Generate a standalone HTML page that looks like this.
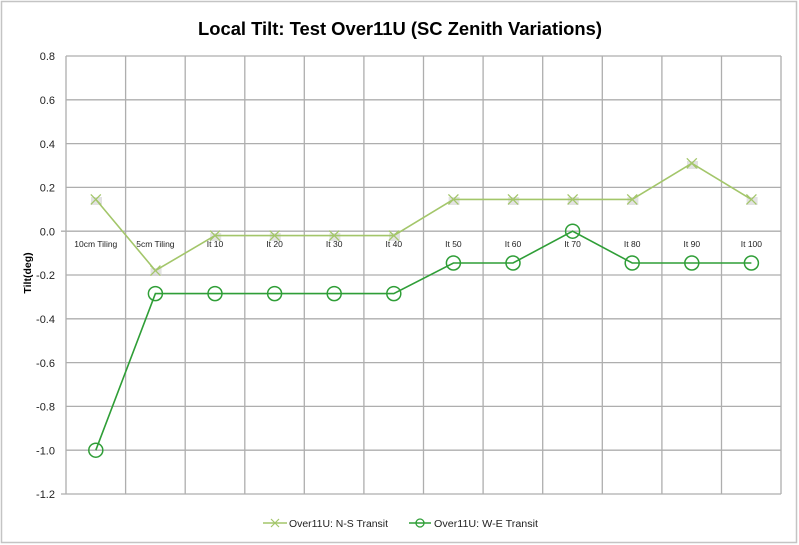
<!DOCTYPE html>
<html><head><meta charset="utf-8"><style>
html,body{margin:0;padding:0;background:#fff;}
svg{display:block;}
text{font-family:"Liberation Sans",sans-serif;}
</style></head><body>
<svg width="799" height="545" viewBox="0 0 799 545" xmlns="http://www.w3.org/2000/svg">
<rect x="1.5" y="1.5" width="795" height="541" fill="#fff" stroke="#c4c4c4" stroke-width="1.5"/>
<text x="400" y="35" text-anchor="middle" font-size="18" font-weight="bold" fill="#000" textLength="404" lengthAdjust="spacingAndGlyphs">Local Tilt: Test Over11U (SC Zenith Variations)</text>
<g stroke="#aeaeae" stroke-width="1.3" fill="none">
<line x1="66" y1="56" x2="781" y2="56"/>
<line x1="66" y1="99.8" x2="781" y2="99.8"/>
<line x1="66" y1="143.6" x2="781" y2="143.6"/>
<line x1="66" y1="187.4" x2="781" y2="187.4"/>
<line x1="61" y1="231.2" x2="781" y2="231.2"/>
<line x1="66" y1="275" x2="781" y2="275"/>
<line x1="66" y1="318.8" x2="781" y2="318.8"/>
<line x1="66" y1="362.6" x2="781" y2="362.6"/>
<line x1="66" y1="406.4" x2="781" y2="406.4"/>
<line x1="66" y1="450.2" x2="781" y2="450.2"/>
<line x1="61" y1="494" x2="781" y2="494"/>
<line x1="66" y1="56" x2="66" y2="494"/>
<line x1="125.6" y1="56" x2="125.6" y2="494"/>
<line x1="185.2" y1="56" x2="185.2" y2="494"/>
<line x1="244.8" y1="56" x2="244.8" y2="494"/>
<line x1="304.3" y1="56" x2="304.3" y2="494"/>
<line x1="363.9" y1="56" x2="363.9" y2="494"/>
<line x1="423.5" y1="56" x2="423.5" y2="494"/>
<line x1="483.1" y1="56" x2="483.1" y2="494"/>
<line x1="542.7" y1="56" x2="542.7" y2="494"/>
<line x1="602.3" y1="56" x2="602.3" y2="494"/>
<line x1="661.9" y1="56" x2="661.9" y2="494"/>
<line x1="721.5" y1="56" x2="721.5" y2="494"/>
<line x1="781" y1="56" x2="781" y2="494"/>
</g>
<g font-size="11" fill="#222" text-anchor="end">
<text x="55" y="60">0.8</text>
<text x="55" y="104">0.6</text>
<text x="55" y="147.8">0.4</text>
<text x="55" y="191.6">0.2</text>
<text x="55" y="235.4">0.0</text>
<text x="55" y="279.2">-0.2</text>
<text x="55" y="323">-0.4</text>
<text x="55" y="366.8">-0.6</text>
<text x="55" y="410.6">-0.8</text>
<text x="55" y="454.4">-1.0</text>
<text x="55" y="498.2">-1.2</text>
</g>
<text transform="translate(31,273) rotate(-90)" text-anchor="middle" font-size="10.5" font-weight="bold" fill="#000">Tilt(deg)</text>
<g font-size="8.5" fill="#222" text-anchor="middle">
<text x="95.8" y="247">10cm Tiling</text>
<text x="155.4" y="247">5cm Tiling</text>
<text x="215" y="247">It 10</text>
<text x="274.6" y="247">It 20</text>
<text x="334.2" y="247">It 30</text>
<text x="393.8" y="247">It 40</text>
<text x="453.4" y="247">It 50</text>
<text x="513" y="247">It 60</text>
<text x="572.6" y="247">It 70</text>
<text x="632.2" y="247">It 80</text>
<text x="691.8" y="247">It 90</text>
<text x="751.4" y="247">It 100</text>
</g>
<!-- N-S series -->
<g fill="#d6d6d6" opacity="0.7">
<rect x="91" y="197" width="11" height="8"/>
<rect x="150.6" y="268" width="11" height="8"/>
<rect x="210.2" y="233" width="11" height="8"/>
<rect x="269.8" y="233" width="11" height="8"/>
<rect x="329.4" y="233" width="11" height="8"/>
<rect x="389" y="233" width="11" height="8"/>
<rect x="448.6" y="197" width="11" height="8"/>
<rect x="508.2" y="197" width="11" height="8"/>
<rect x="567.8" y="197" width="11" height="8"/>
<rect x="627.4" y="197" width="11" height="8"/>
<rect x="687" y="161" width="11" height="8"/>
<rect x="746.6" y="197" width="11" height="8"/>
</g>
<polyline fill="none" stroke="#a3c66a" stroke-width="1.6" points="95.8,199.4 155.4,270.6 215,235.6 274.6,235.6 334.2,235.6 393.8,235.6 453.4,199.4 513,199.4 572.6,199.4 632.2,199.4 691.8,163.3 751.4,199.4"/>
<g stroke="#a3c66a" stroke-width="1.3">
<path d="M90.8,194.4l10,10M100.8,194.4l-10,10"/>
<path d="M150.4,265.6l10,10M160.4,265.6l-10,10"/>
<path d="M210,230.6l10,10M220,230.6l-10,10"/>
<path d="M269.6,230.6l10,10M279.6,230.6l-10,10"/>
<path d="M329.2,230.6l10,10M339.2,230.6l-10,10"/>
<path d="M388.8,230.6l10,10M398.8,230.6l-10,10"/>
<path d="M448.4,194.4l10,10M458.4,194.4l-10,10"/>
<path d="M508,194.4l10,10M518,194.4l-10,10"/>
<path d="M567.6,194.4l10,10M577.6,194.4l-10,10"/>
<path d="M627.2,194.4l10,10M637.2,194.4l-10,10"/>
<path d="M686.8,158.3l10,10M696.8,158.3l-10,10"/>
<path d="M746.4,194.4l10,10M756.4,194.4l-10,10"/>
</g>
<!-- W-E series -->
<polyline fill="none" stroke="#2f9e37" stroke-width="1.6" points="95.8,450.2 155.4,293.6 215,293.6 274.6,293.6 334.2,293.6 393.8,293.6 453.4,263 513,263 572.6,231.2 632.2,263 691.8,263 751.4,263"/>
<g fill="none" stroke="#2f9e37" stroke-width="1.5">
<circle cx="95.8" cy="450.2" r="7"/>
<circle cx="155.4" cy="293.6" r="7"/>
<circle cx="215" cy="293.6" r="7"/>
<circle cx="274.6" cy="293.6" r="7"/>
<circle cx="334.2" cy="293.6" r="7"/>
<circle cx="393.8" cy="293.6" r="7"/>
<circle cx="453.4" cy="263" r="7"/>
<circle cx="513" cy="263" r="7"/>
<circle cx="572.6" cy="231.2" r="7"/>
<circle cx="632.2" cy="263" r="7"/>
<circle cx="691.8" cy="263" r="7"/>
<circle cx="751.4" cy="263" r="7"/>
</g>
<!-- legend -->
<line x1="263" y1="523" x2="287" y2="523" stroke="#a3c66a" stroke-width="1.6"/>
<path d="M271,519l8,8M279,519l-8,8" stroke="#a3c66a" stroke-width="1.2"/>
<text x="289" y="527" font-size="10" fill="#222" textLength="99" lengthAdjust="spacingAndGlyphs">Over11U: N-S Transit</text>
<line x1="409" y1="523" x2="431" y2="523" stroke="#2f9e37" stroke-width="1.6"/>
<circle cx="420" cy="523" r="4" fill="none" stroke="#2f9e37" stroke-width="1.3"/>
<text x="434" y="527" font-size="10" fill="#222" textLength="104" lengthAdjust="spacingAndGlyphs">Over11U: W-E Transit</text>
</svg>
</body></html>
